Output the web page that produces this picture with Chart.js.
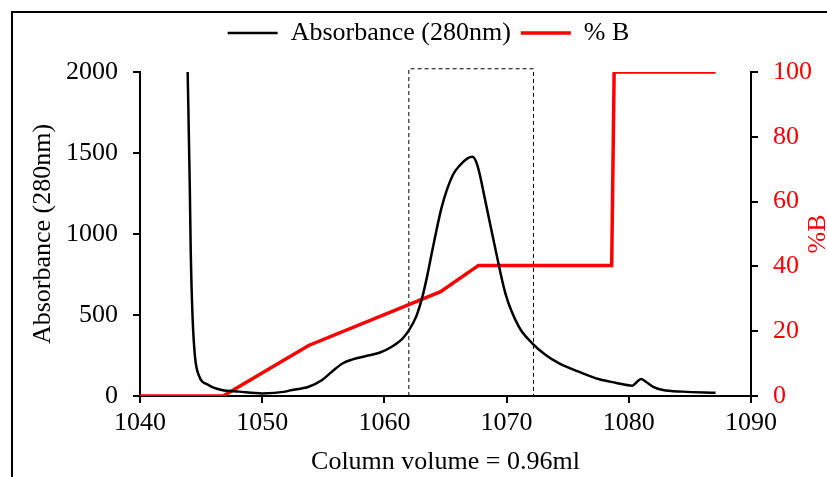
<!DOCTYPE html>
<html>
<head>
<meta charset="utf-8">
<script src="https://cdn.jsdelivr.net/npm/chart.js@4.4.1/dist/chart.umd.min.js"></script>
<style>
  html, body { margin: 0; padding: 0; background: #fff; }
  #wrap { position: relative; width: 827px; height: 477px; }
  #frame {
    position: absolute; left: 11px; top: 11px; right: 0; bottom: 0;
    border-left: 2px solid #000; border-top: 2px solid #000;
    pointer-events: none;
  }
</style>
</head>
<body>
<div id="wrap">
  <canvas id="chart"></canvas>
  <div id="frame"></div>
</div>
<script>
// absorbance trace (280nm)
const absVolume = [1043.9, 1044.07, 1044.15, 1044.3, 1044.5, 1044.8, 1045.6, 1046.7, 1048.1, 1050,
  1051.9, 1052.2, 1053.8, 1054.9, 1055.7, 1056.6, 1057.4, 1058.5, 1059.6, 1060.6,
  1061.5, 1062, 1062.6, 1063.1, 1063.5, 1063.9, 1064.7, 1065.6, 1066.2, 1066.8, 1067.2,
  1067.6, 1068.3, 1069.1, 1069.9, 1071, 1072.1, 1073.2, 1074.3, 1075.9, 1077.6,
  1078.9, 1080.3, 1080.6, 1081, 1081.4, 1082, 1082.8, 1084.4, 1087.1];
const absValues = [2000, 1313, 901, 490, 243, 130, 68, 37, 27, 16,
  27, 33, 57, 99, 150, 202, 226, 247, 267, 304,
  356, 405, 490, 610, 740, 890, 1169, 1364, 1426, 1467, 1477,
  1426, 1189, 901, 634, 428, 325, 253, 201, 150, 103,
  82, 64, 82, 105, 88, 57, 37, 27, 20];

// %B gradient
const bVolume = [1040, 1046.8, 1053.8, 1064.6, 1067.7, 1078.6, 1078.8, 1087.1];
const bValues = [0, 0, 15.6, 32.2, 40.3, 40.3, 100, 100];

// dashed collection window
const windowVolume = [1062, 1062, 1072.2, 1072.2];
const windowValues = [0, 2020, 2020, 0];

const xTicks = [1040, 1050, 1060, 1070, 1080, 1090];

const FONT = 'Liberation Serif, Times New Roman, serif';
const SIZE = 26;

function pts(xs, ys) {
  return xs.map((x, i) => ({ x: x, y: ys[i] }));
}

const rightTitle = {
  id: 'rightTitle',
  afterDraw(chart) {
    const ctx = chart.ctx;
    ctx.save();
    ctx.translate(818, chart.chartArea.top + chart.chartArea.height / 2);
    ctx.rotate(-Math.PI / 2);
    ctx.fillStyle = '#ff0000';
    ctx.font = SIZE + 'px ' + FONT;
    ctx.textAlign = 'center';
    ctx.textBaseline = 'middle';
    ctx.fillText('%B', 0, 0);
    ctx.restore();
  }
};

const plain = v => String(v);

new Chart(document.getElementById('chart'), {
  type: 'line',
  data: {
    datasets: [
      {
        label: 'Absorbance (280nm)',
        data: pts(absVolume, absValues),
        borderColor: '#000',
        backgroundColor: '#000',
        borderWidth: 2.5,
        pointRadius: 0,
        cubicInterpolationMode: 'monotone',
        yAxisID: 'y'
      },
      {
        label: '% B',
        data: pts(bVolume, bValues),
        borderColor: '#ff0000',
        backgroundColor: '#ff0000',
        borderWidth: 3.5,
        pointRadius: 0,
        tension: 0,
        yAxisID: 'y2'
      },
      {
        label: 'window',
        data: pts(windowVolume, windowValues),
        borderColor: '#000',
        borderWidth: 1,
        borderDash: [4, 3],
        pointRadius: 0,
        tension: 0,
        clip: false,
        yAxisID: 'y'
      }
    ]
  },
  options: {
    responsive: true,
    maintainAspectRatio: false,
    animation: false,
    layout: { padding: { left: 30, top: 10, right: 0, bottom: 0 } },
    plugins: {
      tooltip: { enabled: false },
      legend: {
        position: 'top',
        labels: {
          usePointStyle: true,
          pointStyle: 'line',
          pointStyleWidth: 50,
          padding: 10,
          color: '#000',
          font: { family: FONT, size: SIZE },
          filter: item => item.datasetIndex < 2
        }
      }
    },
    scales: {
      x: {
        type: 'linear',
        min: 1040,
        max: 1090,
        afterFit: s => { s.height = 81; },
        afterBuildTicks: s => { s.ticks = xTicks.map(v => ({ value: v })); },
        grid: { drawOnChartArea: false, drawTicks: true, tickLength: 7, color: '#000', lineWidth: 2 },
        border: { color: '#000', width: 2 },
        ticks: { color: '#000', padding: 5, callback: plain, font: { family: FONT, size: SIZE } },
        title: {
          display: true,
          text: 'Column volume = 0.96ml',
          color: '#000',
          padding: { top: 0, bottom: 2 },
          font: { family: FONT, size: SIZE, lineHeight: 1 }
        }
      },
      xTop: {
        type: 'linear',
        position: 'top',
        display: true,
        afterFit: s => { s.height = 16; },
        grid: { display: false },
        border: { display: false },
        ticks: { display: false }
      },
      y: {
        position: 'left',
        min: 0,
        max: 2000,
        afterFit: s => { s.width = 110; },
        grid: { drawOnChartArea: false, drawTicks: true, tickLength: 7, color: '#000', lineWidth: 2 },
        border: { color: '#000', width: 2 },
        ticks: { stepSize: 500, color: '#000', padding: 15, callback: plain, font: { family: FONT, size: SIZE } },
        title: {
          display: true,
          text: 'Absorbance (280nm)',
          color: '#000',
          padding: { top: 0, bottom: 0 },
          font: { family: FONT, size: SIZE, lineHeight: 1 }
        }
      },
      y2: {
        position: 'right',
        min: 0,
        max: 100,
        afterFit: s => { s.width = 76; },
        grid: { drawOnChartArea: false, drawTicks: true, tickLength: 7, color: '#000', lineWidth: 2 },
        border: { color: '#000', width: 2 },
        ticks: { stepSize: 20, color: '#ff0000', padding: 15, callback: plain, font: { family: FONT, size: SIZE } }
      }
    }
  },
  plugins: [rightTitle]
});
</script>
</body>
</html>
